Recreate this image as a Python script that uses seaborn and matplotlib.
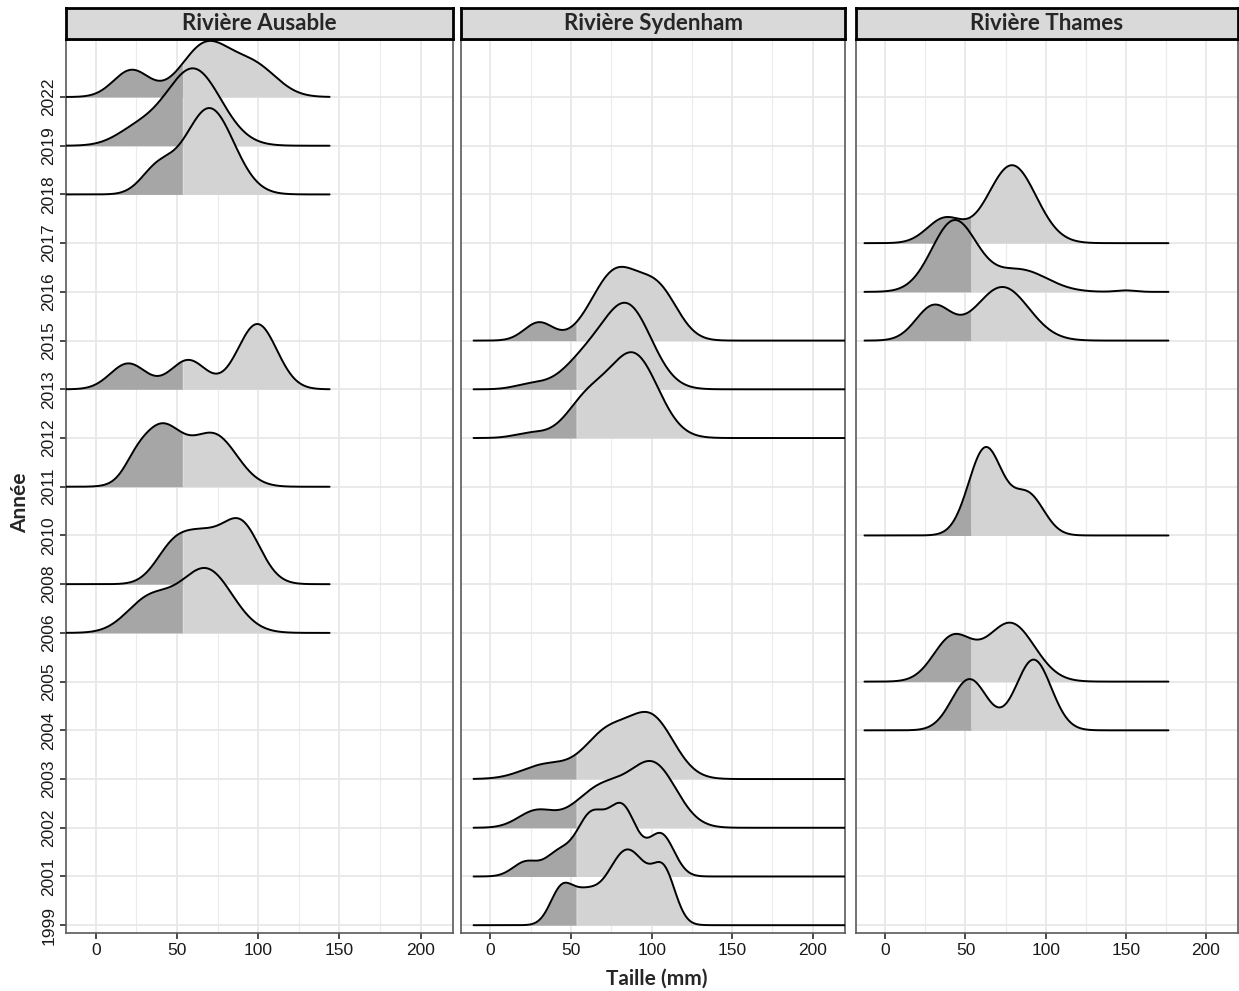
import numpy as np
import matplotlib
matplotlib.use("Agg")
import matplotlib.pyplot as plt
import seaborn as sns

# y levels (one ridge row per sampled year)
years = [1999, 2001, 2002, 2003, 2004, 2005, 2006, 2008, 2010, 2011, 2012,
         2013, 2015, 2016, 2017, 2018, 2019, 2022]
rivers = ["Rivière Ausable", "Rivière Sydenham", "Rivière Thames"]

# length cohorts per year:
# (mean length mm, sd mm, ridge height in row units)
ausable_years = [2022, 2019, 2018, 2013, 2011, 2008, 2006]
ausable_cohorts = [
    [(22, 11, 0.55), (68, 15, 1.08), (98, 14, 0.60)],
    [(60, 17, 1.58), (25, 13, 0.30)],
    [(70, 15, 1.77), (38, 10, 0.50)],
    [(20, 11, 0.53), (57, 11, 0.60), (99.5, 12, 1.34)],
    [(40, 13, 1.22), (73, 14, 1.05), (24, 7, 0.20)],
    [(48, 11, 0.75), (66, 11, 0.75), (89, 12, 1.25)],
    [(33, 14, 0.68), (68, 16, 1.30)],
]
sydenham_years = [2015, 2013, 2012, 2003, 2002, 2001, 1999]
sydenham_cohorts = [
    [(30, 9, 0.37), (78, 15, 1.42), (105, 12, 0.90)],
    [(58, 14, 0.55), (85, 15, 1.68), (25, 10, 0.10)],
    [(60, 13, 0.75), (89, 15, 1.69), (25, 10, 0.10)],
    [(35, 15, 0.30), (72, 14, 0.90), (100, 14, 1.22)],
    [(28, 11, 0.33), (70, 17, 0.85), (102, 14, 1.20)],
    [(22, 8, 0.30), (42, 8, 0.45), (62, 9, 1.20), (82, 9, 1.38), (106, 8, 0.85)],
    [(44, 7, 0.72), (58, 8, 0.50), (85, 13, 1.55), (108, 7, 0.90)],
]
thames_years = [2017, 2016, 2015, 2010, 2005, 2004]
thames_cohorts = [
    [(37, 11, 0.50), (79, 15, 1.60)],
    [(43, 14, 1.45), (84, 17, 0.45), (150, 6, 0.03)],
    [(30, 11, 0.70), (73, 16.5, 1.10)],
    [(62.5, 10.5, 1.79), (89, 10, 0.83)],
    [(42, 12, 0.90), (78, 15, 1.20)],
    [(52.5, 11, 1.05), (92.5, 11, 1.45)],
]
length_ranges = [(-25, 144), (-10.5, 225), (-13, 176.6)]
cutoff = 53.5

sns.set_theme(style="whitegrid")
plt.rcParams["font.family"] = ["Liberation Sans", "DejaVu Sans"]

W, H = 1239, 991
fig = plt.figure(figsize=(W / 100, H / 100), dpi=100)
fig.patch.set_facecolor("white")

panels = [(66, 453), (461, 845), (856, 1238)]
top, bottom = 40, 933
strip_top = 8

all_years = [ausable_years, sydenham_years, thames_years]
all_cohorts = [ausable_cohorts, sydenham_cohorts, thames_cohorts]

for k, (l, r) in enumerate(panels):
    ax = fig.add_axes([l / W, 1 - bottom / H, (r - l) / W, (bottom - top) / H])
    ax.set_facecolor("white")
    lo, hi = length_ranges[k]
    x = np.linspace(lo, hi, 700)
    for i, (yr, coh) in enumerate(zip(all_years[k], all_cohorts[k])):
        base = years.index(yr)
        h = np.zeros_like(x)
        for m, s, a in coh:
            h += a * np.exp(-0.5 * ((x - m) / s) ** 2)
        z = 3 + i * 3
        left = x <= cutoff
        ax.fill_between(x[left], base, base + h[left], color="#A6A6A6", lw=0, zorder=z)
        right = x >= cutoff
        ax.fill_between(x[right], base, base + h[right], color="#D3D3D3", lw=0, zorder=z)
        sns.lineplot(x=x, y=base + h, color="black", lw=1.4, ax=ax, zorder=z + 1)

    ax.set_xlim(-18.3, 220)
    ax.set_ylim(-0.16, 18.17)
    ax.set_xticks([0, 50, 100, 150, 200])
    ax.set_xticks([25, 75, 125, 175], minor=True)
    ax.set_yticks(range(len(years)))
    ax.grid(which="major", color="#E8E8E8", lw=1.3)
    ax.grid(which="minor", axis="x", color="#EBEBEB", lw=0.8)
    ax.set_axisbelow(True)
    ax.set_xlabel("")
    ax.set_ylabel("")
    for sp in ax.spines.values():
        sp.set_color("#5A5A5A")
        sp.set_linewidth(1.2)
        sp.set_visible(True)
    ax.tick_params(axis="x", which="major", length=4, color="#333333",
                   labelsize=12.5, labelcolor="#1A1A1A", pad=3, bottom=True)
    ax.tick_params(axis="x", which="minor", length=0)
    if k == 0:
        ax.set_yticklabels([str(y) for y in years], rotation=90, va="center")
        ax.tick_params(axis="y", length=4, color="#333333", labelsize=12.5,
                       labelcolor="#1A1A1A", pad=3, left=True)
    else:
        ax.set_yticklabels([])
        ax.tick_params(axis="y", length=0)

    sax = fig.add_axes([l / W, 1 - (top - 1) / H, (r - l) / W, (top - 1 - strip_top) / H])
    sax.set_facecolor("#D9D9D9")
    sax.set_xticks([])
    sax.set_yticks([])
    sax.grid(False)
    for sp in sax.spines.values():
        sp.set_color("black")
        sp.set_linewidth(2)
        sp.set_visible(True)
    sax.text(0.5, 0.5, rivers[k], ha="center", va="center", fontsize=16,
             fontweight="bold", family=["Lato", "DejaVu Sans"], transform=sax.transAxes)

fig.text(20 / W, 1 - 503 / H, "Année", rotation=90, ha="center", va="center",
         fontsize=15, fontweight="bold", family=["Lato", "DejaVu Sans"])
fig.text(657 / W, 1 - 979 / H, "Taille (mm)", ha="center", va="center",
         fontsize=15, fontweight="bold", family=["Lato", "DejaVu Sans"])

fig.savefig("out.png", dpi=100, facecolor="white")
